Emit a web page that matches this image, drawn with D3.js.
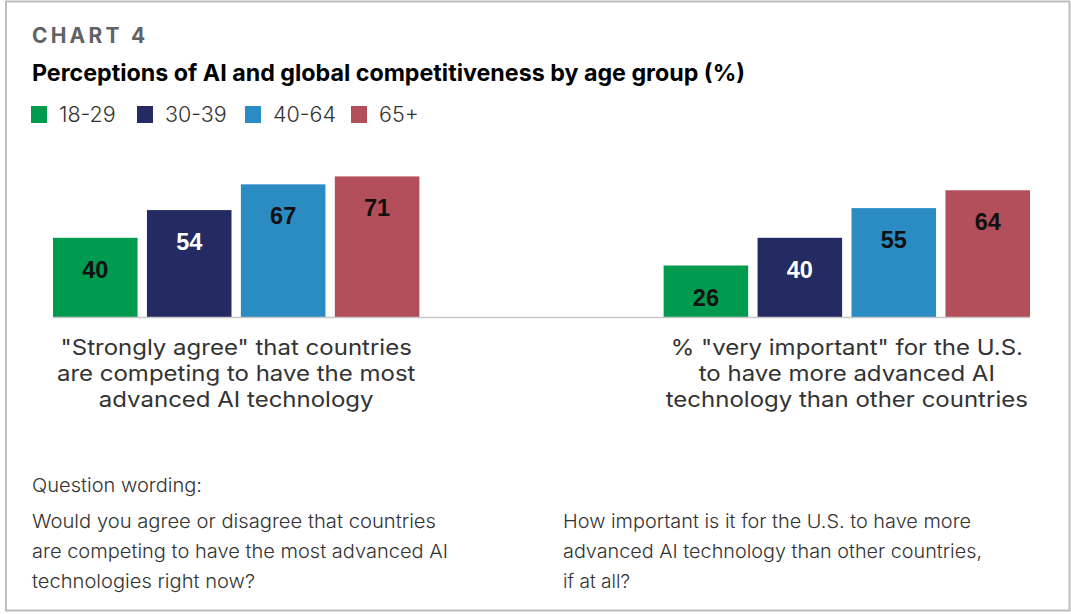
<!DOCTYPE html>
<html>
<head>
<meta charset="utf-8">
<script src="https://cdn.jsdelivr.net/npm/d3@7"></script>
<style>
  html, body { margin: 0; padding: 0; background: #fff; }
  svg { display: block; }
</style>
</head>
<body>
<svg id="chart" width="1071" height="614"></svg>
<script>
// Survey questions (chart groups) and age brackets (bars)
const questions = ["competing", "important"];
const questionLabels = [
  ["\"Strongly agree\" that countries", "are competing to have the most", "advanced AI technology"],
  ["% \"very important\" for the U.S.", "to have more advanced AI", "technology than other countries"]
];
const ageGroups = ["18-29", "30-39", "40-64", "65+"];
const ageColors = ["#009b4e", "#232b62", "#2a8cc2", "#b34f5b"];
const labelColors = ["#111", "#fff", "#111", "#111"];

// Percent per age group, one array per question
const competingValues = [40, 54, 67, 71];
const importantValues = [26, 40, 55, 64];

const footerHeading = "Question wording:";
const footerLeft = [
  "Would you agree or disagree that countries",
  "are competing to have the most advanced AI",
  "technologies right now?"
];
const footerRight = [
  "How important is it for the U.S. to have more",
  "advanced AI technology than other countries,",
  "if at all?"
];

const series = [competingValues, importantValues];

const svg = d3.select("#chart");
const W = 1071, H = 614;
const sans = "Inter, 'Liberation Sans', sans-serif";

// outer frame
svg.append("rect")
  .attr("x", 6).attr("y", 1.5).attr("width", W - 7.5).attr("height", 609)
  .attr("fill", "#fff").attr("stroke", "#bdbdbd").attr("stroke-width", 2);

// headings
svg.append("text")
  .attr("x", 32).attr("y", 43)
  .attr("font-family", sans)
  .attr("font-weight", 700).attr("font-size", 21)
  .attr("letter-spacing", 3.2)
  .attr("fill", "#5f6366")
  .text("CHART 4");

svg.append("text")
  .attr("x", 32).attr("y", 81)
  .attr("font-family", sans)
  .attr("font-weight", 700).attr("font-size", 23)
  .attr("fill", "#000")
  .attr("textLength", 713).attr("lengthAdjust", "spacingAndGlyphs")
  .text("Perceptions of AI and global competitiveness by age group (%)");

// legend
const legendX = [31, 137, 245, 351];
const legend = svg.append("g").selectAll("g")
  .data(ageGroups)
  .join("g")
  .attr("transform", (d, i) => `translate(${legendX[i]},106)`);
legend.append("rect")
  .attr("width", 16).attr("height", 17)
  .attr("fill", (d, i) => ageColors[i]);
legend.append("text")
  .attr("x", 28).attr("y", 16)
  .attr("font-family", sans)
  .attr("font-weight", 300).attr("font-size", 21.5)
  .attr("fill", "#333")
  .text(d => d);

// scales
const x0 = d3.scaleBand().domain(questions).range([53, 1030]).paddingInner(0.4);
const x1 = d3.scaleBand().domain(ageGroups).range([0, x0.bandwidth()]).paddingInner(0.1);
const y = d3.scaleLinear().domain([0, 100]).range([317, 119]);

const groups = svg.append("g").selectAll("g")
  .data(questions)
  .join("g")
  .attr("transform", d => `translate(${x0(d)},0)`);

groups.selectAll("rect")
  .data((q, qi) => series[qi].map((v, i) => ({ age: ageGroups[i], v, i })))
  .join("rect")
  .attr("x", d => x1(d.age))
  .attr("y", d => y(d.v))
  .attr("width", x1.bandwidth())
  .attr("height", d => y(0) - y(d.v))
  .attr("fill", d => ageColors[d.i]);

groups.selectAll("text.val")
  .data((q, qi) => series[qi].map((v, i) => ({ age: ageGroups[i], v, i })))
  .join("text")
  .attr("class", "val")
  .attr("x", d => x1(d.age) + x1.bandwidth() / 2)
  .attr("y", d => y(d.v) + 40)
  .attr("text-anchor", "middle")
  .attr("font-family", "'Liberation Sans', Arial, sans-serif")
  .attr("font-weight", 700).attr("font-size", 23.5)
  .attr("fill", d => labelColors[d.i])
  .text(d => d.v);

// baseline
svg.append("line")
  .attr("x1", 53).attr("x2", 1030)
  .attr("y1", y(0) + 0.5).attr("y2", y(0) + 0.5)
  .attr("stroke", "#c8c8c8").attr("stroke-width", 1.5);

// category labels under each group: set tight (26px leading), so each line is
// drawn at a slightly smaller size and stretched to its 24px natural width
const measure = svg.append("text")
  .attr("font-family", sans).attr("font-weight", 400).attr("font-size", 24)
  .attr("visibility", "hidden");
function naturalWidth(str) {
  measure.text(str);
  return measure.node().getComputedTextLength();
}
groups.each(function (q, qi) {
  const g = d3.select(this);
  questionLabels[qi].forEach((line, li) => {
    g.append("text")
      .attr("text-anchor", "middle")
      .attr("font-family", sans)
      .attr("font-weight", 400).attr("font-size", 21.5)
      .attr("fill", "#333")
      .attr("x", x0.bandwidth() / 2)
      .attr("y", 355 + li * 26)
      .attr("textLength", naturalWidth(line))
      .attr("lengthAdjust", "spacingAndGlyphs")
      .text(line);
  });
});
measure.remove();

// question wording footer
svg.append("text")
  .attr("x", 32).attr("y", 492)
  .attr("font-family", sans).attr("font-weight", 300).attr("font-size", 19)
  .attr("fill", "#333")
  .attr("textLength", 170).attr("lengthAdjust", "spacingAndGlyphs")
  .text(footerHeading);

const leftWidths = [404, 416, 223];
const rightWidths = [408, 419, 67];
footerLeft.forEach((line, i) => {
  svg.append("text")
    .attr("x", 32).attr("y", 528 + i * 30)
    .attr("font-family", sans).attr("font-weight", 300).attr("font-size", 19)
    .attr("fill", "#333")
    .attr("textLength", leftWidths[i]).attr("lengthAdjust", "spacingAndGlyphs")
    .text(line);
});
footerRight.forEach((line, i) => {
  svg.append("text")
    .attr("x", 563).attr("y", 528 + i * 30)
    .attr("font-family", sans).attr("font-weight", 300).attr("font-size", 19)
    .attr("fill", "#333")
    .attr("textLength", rightWidths[i]).attr("lengthAdjust", "spacingAndGlyphs")
    .text(line);
});
</script>
</body>
</html>
